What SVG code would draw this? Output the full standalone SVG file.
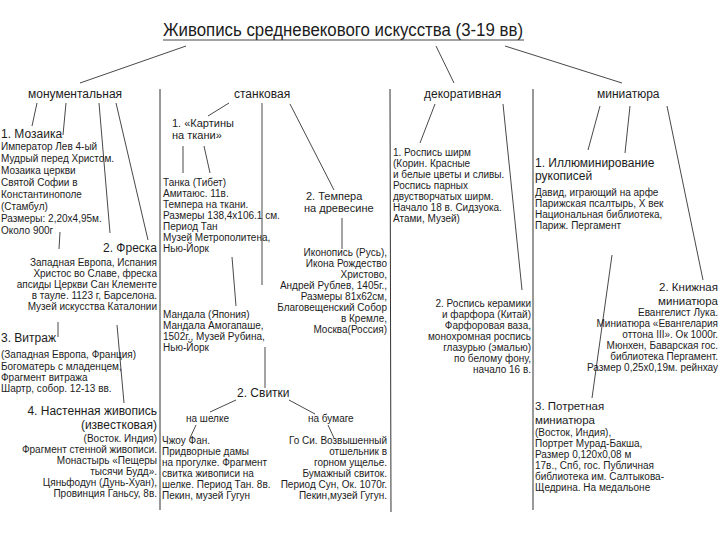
<svg xmlns="http://www.w3.org/2000/svg" width="720" height="540" viewBox="0 0 720 540">
<style>
text{font-family:"Liberation Sans",Arial,sans-serif;fill:#1c1c1c}
.t{font-size:17.5px}
.l{font-size:12px}
.h{font-size:12px}
.hs{font-size:11.5px}
.m{font-size:11px}
.b{font-size:10px}
.r{text-anchor:end}
#connectors line{stroke:#333;stroke-width:0.9;fill:none}
#dividers line{stroke:#333;stroke-width:1}
</style>
<rect width="720" height="540" fill="#fff"/>
<g id="dividers">
<line x1="160" y1="89" x2="160" y2="510"/>
<line x1="390" y1="89" x2="391" y2="512"/>
<line x1="533" y1="89" x2="533" y2="510"/>
</g>
<g id="connectors">
<line x1="186" y1="46" x2="80" y2="83"/>
<line x1="436" y1="46" x2="454" y2="83"/>
<line x1="505" y1="46" x2="622" y2="83"/>
<line x1="37" y1="103" x2="32" y2="126"/>
<line x1="66" y1="103" x2="63" y2="135"/>
<line x1="99" y1="103" x2="110" y2="233"/>
<line x1="116" y1="103" x2="148" y2="240"/>
<line x1="60" y1="232" x2="59" y2="249"/>
<line x1="58" y1="322" x2="58" y2="337"/>
<line x1="117" y1="325" x2="124" y2="403"/>
<line x1="229" y1="103" x2="208" y2="116"/>
<line x1="262" y1="103" x2="262" y2="285"/>
<line x1="290" y1="104" x2="334" y2="190"/>
<line x1="183" y1="146" x2="183" y2="173"/>
<line x1="204" y1="146" x2="210" y2="173"/>
<line x1="232" y1="257" x2="236" y2="306"/>
<line x1="265" y1="347" x2="265" y2="388"/>
<line x1="236" y1="400" x2="210" y2="412"/>
<line x1="289" y1="400" x2="315" y2="414"/>
<line x1="196" y1="425" x2="190" y2="438"/>
<line x1="328" y1="425" x2="334" y2="438"/>
<line x1="342" y1="218" x2="342" y2="249"/>
<line x1="435" y1="104" x2="420" y2="143"/>
<line x1="503" y1="104" x2="522" y2="290"/>
<line x1="600" y1="106" x2="588" y2="150"/>
<line x1="630" y1="106" x2="625" y2="153"/>
<line x1="667" y1="106" x2="703" y2="280"/>
<line x1="612" y1="255" x2="592" y2="398"/>
</g>
<g id="title">
<text class="t" x="163" y="36" textLength="360" lengthAdjust="spacingAndGlyphs">Живопись средневекового искусства (3-19 вв)</text>
<line x1="163" y1="40" x2="524" y2="40" stroke="#333" stroke-width="0.9"/>
</g>
<g id="monumental"><text class="l" x="28" y="98">монументальная</text></g>
<g id="easel"><text class="l" x="234" y="98">станковая</text></g>
<g id="decorative"><text class="l" x="424" y="98">декоративная</text></g>
<g id="miniature"><text class="l" x="597" y="98">миниатюра</text></g>
<g id="mosaic">
<text class="h" x="1" y="138">1. Мозаика</text>
<text class="b"><tspan x="1" y="150">Император Лев 4-ый</tspan><tspan x="1" y="162">Мудрый перед Христом.</tspan><tspan x="1" y="174">Мозаика церкви</tspan><tspan x="1" y="186">Святой Софии в</tspan><tspan x="1" y="198">Константинополе</tspan><tspan x="1" y="210">(Стамбул)</tspan><tspan x="1" y="222">Размеры: 2,20х4,95м.</tspan><tspan x="1" y="234">Около 900г</tspan></text>
</g>
<g id="fresco">
<text class="h r" x="157" y="252">2. Фреска</text>
<text class="b r"><tspan x="157" y="266">Западная Европа, Испания</tspan><tspan x="157" y="277">Христос во Славе, фреска</tspan><tspan x="157" y="288">апсиды Церкви Сан Клементе</tspan><tspan x="157" y="299">в тауле. 1123 г, Барселона.</tspan><tspan x="157" y="310">Музей искусства Каталонии</tspan></text>
</g>
<g id="stained-glass">
<text class="h" x="1" y="342">3. Витраж</text>
<text class="b"><tspan x="1" y="358">(Западная Европа, Франция)</tspan><tspan x="1" y="370">Богоматерь с младенцем,</tspan><tspan x="1" y="381">Фрагмент витража</tspan><tspan x="1" y="392">Шартр, собор. 12-13 вв.</tspan></text>
</g>
<g id="wall-painting">
<text class="h r"><tspan x="157" y="415">4. Настенная живопись</tspan><tspan x="157" y="429">(известковая)</tspan></text>
<text class="b r"><tspan x="157" y="442">(Восток. Индия)</tspan><tspan x="157" y="453">Фрагмент стенной живописи.</tspan><tspan x="157" y="464">Монастырь «Пещеры</tspan><tspan x="157" y="475">тысячи Будд».</tspan><tspan x="157" y="486">Цяньфодун (Дунь-Хуан),</tspan><tspan x="157" y="497">Провинция Ганьсу, 8в.</tspan></text>
</g>
<g id="cloth">
<text class="m"><tspan x="172" y="127">1. «Картины</tspan><tspan x="172" y="139">на ткани»</tspan></text>
</g>
<g id="thangka">
<text class="b"><tspan x="163" y="186">Танка (Тибет)</tspan><tspan x="163" y="197">Амитаюс. 11в.</tspan><tspan x="163" y="208">Темпера на ткани.</tspan><tspan x="163" y="219">Размеры 138,4х106.1 см.</tspan><tspan x="163" y="230">Период Тан</tspan><tspan x="163" y="241">Музей Метрополитена,</tspan><tspan x="163" y="252">Нью-Йорк</tspan></text>
</g>
<g id="mandala">
<text class="b"><tspan x="163" y="318">Мандала (Япония)</tspan><tspan x="163" y="329">Мандала Амогапаше,</tspan><tspan x="163" y="340">1502г., Музей Рубина,</tspan><tspan x="163" y="351">Нью-Йорк</tspan></text>
</g>
<g id="tempera">
<text class="m"><tspan x="306" y="200">2. Темпера</tspan><tspan x="304" y="212">на древесине</tspan></text>
</g>
<g id="icon">
<text class="b r"><tspan x="387" y="256">Иконопись (Русь),</tspan><tspan x="387" y="267">Икона Рождество</tspan><tspan x="387" y="278">Христово,</tspan><tspan x="387" y="289">Андрей Рублев, 1405г.,</tspan><tspan x="387" y="300">Размеры 81х62см,</tspan><tspan x="387" y="311">Благовещенский Собор</tspan><tspan x="387" y="322">в Кремле,</tspan><tspan x="387" y="333">Москва(Россия)</tspan></text>
</g>
<g id="scrolls"><text class="h" x="237" y="397">2. Свитки</text></g>
<g id="silk"><text class="b" x="186" y="422">на шелке</text></g>
<g id="paper"><text class="b" x="308" y="422">на бумаге</text></g>
<g id="zhou-fang">
<text class="b"><tspan x="162" y="444">Чжоу Фан.</tspan><tspan x="162" y="455">Придворные дамы</tspan><tspan x="162" y="466">на прогулке. Фрагмент</tspan><tspan x="162" y="477">свитка живописи на</tspan><tspan x="162" y="488">шелке. Период Тан. 8в.</tspan><tspan x="162" y="499">Пекин, музей Гугун</tspan></text>
</g>
<g id="guo-xi">
<text class="b r"><tspan x="387" y="444">Го Си. Возвышенный</tspan><tspan x="387" y="455">отшельник в</tspan><tspan x="387" y="466">горном ущелье.</tspan><tspan x="387" y="477">Бумажный свиток.</tspan><tspan x="387" y="488">Период Сун, Ок. 1070г.</tspan><tspan x="387" y="499">Пекин,музей Гугун.</tspan></text>
</g>
<g id="screens">
<text class="b"><tspan x="393" y="156">1. Роспись ширм</tspan><tspan x="393" y="167">(Корин. Красные</tspan><tspan x="393" y="178">и белые цветы и сливы.</tspan><tspan x="393" y="189">Роспись парных</tspan><tspan x="393" y="200">двустворчатых ширм.</tspan><tspan x="393" y="211">Начало 18 в. Сидзуока.</tspan><tspan x="393" y="222">Атами, Музей)</tspan></text>
</g>
<g id="ceramics">
<text class="b r"><tspan x="531" y="307">2. Роспись керамики</tspan><tspan x="531" y="318">и фарфора (Китай)</tspan><tspan x="531" y="329">Фарфоровая ваза,</tspan><tspan x="531" y="340">монохромная роспись</tspan><tspan x="531" y="351">глазурью (эмалью)</tspan><tspan x="531" y="362">по белому фону,</tspan><tspan x="531" y="373">начало 16 в.</tspan></text>
</g>
<g id="illumination">
<text class="h"><tspan x="535" y="167">1. Иллюминирование</tspan><tspan x="535" y="180">рукописей</tspan></text>
<text class="b"><tspan x="535" y="196">Давид, играющий на арфе</tspan><tspan x="535" y="207">Парижская псалтырь, X век</tspan><tspan x="535" y="218">Национальная библиотека,</tspan><tspan x="535" y="229">Париж. Пергамент</tspan></text>
</g>
<g id="book-miniature">
<text class="hs r"><tspan x="718" y="291">2. Книжная</tspan><tspan x="718" y="304.5">миниатюра</tspan></text>
<text class="b r"><tspan x="718" y="316">Евангелист Лука.</tspan><tspan x="718" y="327">Миниатюра «Евангелария</tspan><tspan x="718" y="338">оттона III». Ок 1000г.</tspan><tspan x="718" y="349">Мюнхен, Баварская гос.</tspan><tspan x="718" y="360">библиотека Пергамент.</tspan><tspan x="718" y="371">Размер 0,25х0,19м. рейнхау</tspan></text>
</g>
<g id="portrait-miniature">
<text class="hs"><tspan x="535" y="410">3. Потретная</tspan><tspan x="535" y="423.5">миниатюра</tspan></text>
<text class="b"><tspan x="535" y="436">(Восток, Индия),</tspan><tspan x="535" y="447">Портрет Мурад-Бакша,</tspan><tspan x="535" y="458">Размер 0,120х0,08 м</tspan><tspan x="535" y="469">17в., Спб, гос. Публичная</tspan><tspan x="535" y="480">библиотека им. Салтыкова-</tspan><tspan x="535" y="491">Щедрина. На медальоне</tspan></text>
</g>
</svg>
